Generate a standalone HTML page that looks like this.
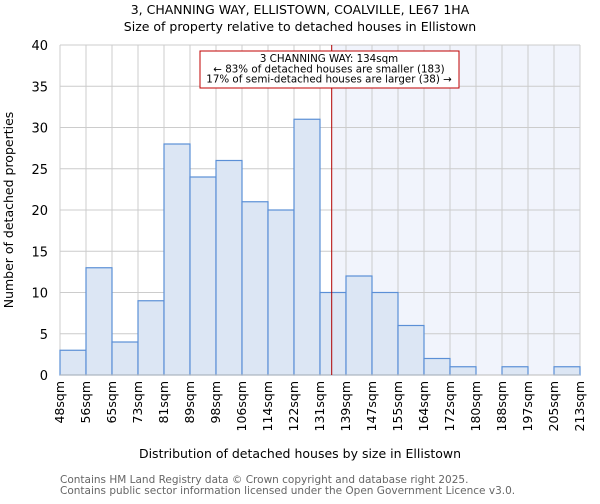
<!DOCTYPE html>
<html><head><meta charset="utf-8"><style>
body{margin:0;background:#fff;font-family:"DejaVu Sans","Liberation Sans",sans-serif}
</style></head><body>
<svg width="600" height="500" xmlns="http://www.w3.org/2000/svg" font-family="DejaVu Sans, Liberation Sans, sans-serif">
<text x="300" y="14" text-anchor="middle" font-size="12.5">3, CHANNING WAY, ELLISTOWN, COALVILLE, LE67 1HA</text>
<text x="300" y="31" text-anchor="middle" font-size="12.5">Size of property relative to detached houses in Ellistown</text>
<g id="plot"></g>
<text x="300" y="458" text-anchor="middle" font-size="12.5">Distribution of detached houses by size in Ellistown</text>
<text transform="translate(13,210) rotate(-90)" text-anchor="middle" font-size="12.5">Number of detached properties</text>
<text x="60" y="483" font-size="10.5" fill="#666">Contains HM Land Registry data © Crown copyright and database right 2025.</text>
<text x="60" y="494" font-size="10.5" fill="#666">Contains public sector information licensed under the Open Government Licence v3.0.</text>
</svg>
<script>
const categories=["48sqm","56sqm","65sqm","73sqm","81sqm","89sqm","98sqm","106sqm","114sqm","122sqm","131sqm","139sqm","147sqm","155sqm","164sqm","172sqm","180sqm","188sqm","197sqm","205sqm","213sqm"];
const counts=[3,13,4,9,28,24,26,21,20,31,10,12,10,6,2,1,0,1,0,1];
const yTicks=[0,5,10,15,20,25,30,35,40];
const markerBin=10.45;
const NS="http://www.w3.org/2000/svg";
const g=document.getElementById('plot');
const X0=60,X1=580,Y0=375,Y1=45,yMax=40;
const bw=(X1-X0)/counts.length;
const xs=i=>X0+i*bw;
const ys=v=>Y0-(v/yMax)*(Y0-Y1);
function mk(t,a){const e=document.createElementNS(NS,t);for(const k in a)e.setAttribute(k,a[k]);g.appendChild(e);return e;}
const mx=xs(markerBin);
let e=mk('rect',{x:mx,y:Y1,width:X1-mx,height:Y0-Y1,fill:'#f1f4fc'});


yTicks.forEach(t=>{
 let l=mk('line',{x1:X0,x2:X1,y1:ys(t),y2:ys(t),stroke:'#cccccc'});
 
 
 let tx=mk('text',{x:X0-12,y:ys(t)+5,'text-anchor':'end','font-size':'13'});tx.textContent=t;
 
 
});
categories.forEach((c,i)=>{
 let l=mk('line',{x1:xs(i),x2:xs(i),y1:Y1,y2:Y0,stroke:'#cccccc'});
 
 
 let x=xs(i)+4;
 let tx=mk('text',{transform:`translate(${x},381) rotate(-90)`,'text-anchor':'end','font-size':'12.5'});tx.textContent=c;
 
 
});
counts.forEach((v,i)=>{
 if(v<=0)return;
 let r=mk('rect',{x:xs(i),y:ys(v),width:bw,height:Y0-ys(v),fill:'#dce6f4',stroke:'#5b8fd6','stroke-width':1.2});
 
 
});
let ax=mk('line',{x1:X0,x2:X1,y1:Y0,y2:Y0,stroke:'#bbbbbb'});


let ml=mk('line',{x1:mx,x2:mx,y1:Y1,y2:Y0,stroke:'#b00000','stroke-width':1});


let box=mk('rect',{x:200,y:51,width:259,height:37,fill:'#fff',stroke:'#c00000'});


["3 CHANNING WAY: 134sqm","← 83% of detached houses are smaller (183)","17% of semi-detached houses are larger (38) →"].forEach((s,i)=>{
 let t=mk('text',{x:329,y:62+i*10.3,'text-anchor':'middle','font-size':'10.3'});t.textContent=s;
 
 
});
</script>
</body></html>
